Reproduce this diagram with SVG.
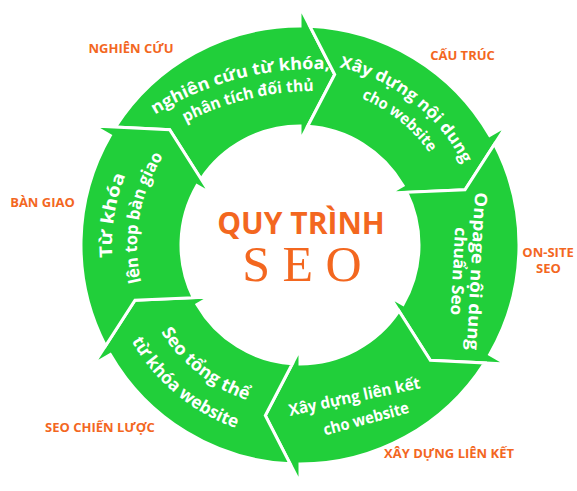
<svg xmlns="http://www.w3.org/2000/svg" width="577" height="491" viewBox="0 0 577 491">
<style>
.arrow{fill:#21cf3a;stroke:#ffffff;stroke-width:3;stroke-linejoin:miter}
.in{font-family:"Open Sans","DejaVu Sans",sans-serif;font-weight:700;fill:#ffffff;text-anchor:middle}
.lbl{font-family:"Open Sans","DejaVu Sans",sans-serif;font-weight:700;font-size:13px;fill:#f3671f;text-anchor:middle}
.title{font-family:"Open Sans","DejaVu Sans",sans-serif;font-weight:700;font-size:30px;fill:#f3671f;text-anchor:middle}
.seo{font-family:"Liberation Serif","Times New Roman",serif;font-size:50px;fill:#f3671f;text-anchor:middle}
</style>
<defs>
<path id="arr" d="M115.47,127.04 A219,219 0 0 1 300,26 L300,7 L334.69,74.49 L300,141 L300,126 A119,119 0 0 0 201.0,178.97 L169.68,129.70 Z"/>
<path id="p1a" d="M83.84,175.57 A304,304 0 0 1 421.46,88.25"/>
<path id="p1b" d="M102.83,187.23 A282,282 0 0 1 416.98,110.09"/>
<path id="p2a" d="M309.53,63.25 A182,182 0 0 1 474.05,191.79"/>
<path id="p2b" d="M309.98,86.31 A159,159 0 0 1 452.53,200.11"/>
<path id="p5a" d="M142.84,291.85 A164,164 0 0 0 290.27,408.71"/>
<path id="p5b" d="M112.79,295.86 A194,194 0 0 0 283.77,438.32"/>
<path id="p6a" d="M131.03,327.41 A188,188 0 0 1 164.76,114.40"/>
<path id="p6b" d="M152.27,313.89 A163,163 0 0 1 184.74,129.74"/>
</defs>
<rect width="577" height="491" fill="#ffffff"/>

<g id="step-research">
<use href="#arr" class="arrow"/>
<text class="in" font-size="17"><textPath href="#p1a" startOffset="50%" textLength="183" lengthAdjust="spacingAndGlyphs">nghiên cứu từ khóa,</textPath></text>
<text class="in" font-size="16"><textPath href="#p1b" startOffset="50%" textLength="133" lengthAdjust="spacingAndGlyphs">phân tích đối thủ</textPath></text>
</g>

<g id="step-content">
<use href="#arr" class="arrow" transform="rotate(60 300 245)"/>
<text class="in" font-size="16.5"><textPath href="#p2a" startOffset="50%" textLength="162" lengthAdjust="spacingAndGlyphs">Xây dựng nội dung</textPath></text>
<text class="in" font-size="15.5"><textPath href="#p2b" startOffset="50%" textLength="88" lengthAdjust="spacingAndGlyphs">cho website</textPath></text>
</g>

<g id="step-onpage">
<use href="#arr" class="arrow" transform="rotate(120 300 245)"/>
<text class="in" font-size="17" transform="translate(471,271) rotate(93)" textLength="158" lengthAdjust="spacingAndGlyphs">Onpage nội dung</text>
<text class="in" font-size="16.5" transform="translate(453,271) rotate(93)" textLength="88" lengthAdjust="spacingAndGlyphs">chuẩn Seo</text>
</g>

<g id="step-links">
<use href="#arr" class="arrow" transform="rotate(180 300 245)"/>
<text class="in" font-size="16" transform="translate(355.5,402) rotate(-12)" textLength="134" lengthAdjust="spacingAndGlyphs">Xây dựng liên kết</text>
<text class="in" font-size="16" transform="translate(367.5,424) rotate(-15)" textLength="88" lengthAdjust="spacingAndGlyphs">cho website</text>
</g>

<g id="step-strategy">
<use href="#arr" class="arrow" transform="rotate(240 300 245)"/>
<text class="in" font-size="17.5"><textPath href="#p5a" startOffset="50%" textLength="112" lengthAdjust="spacingAndGlyphs">Seo tổng thể</textPath></text>
<text class="in" font-size="17.5"><textPath href="#p5b" startOffset="50%" textLength="139" lengthAdjust="spacingAndGlyphs">từ khóa website</textPath></text>
</g>

<g id="step-handover">
<use href="#arr" class="arrow" transform="rotate(300 300 245)"/>
<text class="in" font-size="17.5"><textPath href="#p6a" startOffset="50%" textLength="84" lengthAdjust="spacingAndGlyphs">Từ khóa</textPath></text>
<text class="in" font-size="17"><textPath href="#p6b" startOffset="50%" textLength="131" lengthAdjust="spacingAndGlyphs">lên top bàn giao</textPath></text>
</g>

<g id="labels">
<text class="lbl" x="131" y="53">NGHIÊN CỨU</text>
<text class="lbl" x="462.5" y="60">CẤU TRÚC</text>
<text class="lbl" x="548" y="257">ON-SITE</text>
<text class="lbl" x="548.5" y="273">SEO</text>
<text class="lbl" x="449" y="458">XÂY DỰNG LIÊN KẾT</text>
<text class="lbl" x="100" y="432">SEO CHIẾN LƯỢC</text>
<text class="lbl" x="42.5" y="207">BÀN GIAO</text>
</g>

<g id="center">
<text class="title" x="301" y="234">QUY TRÌNH</text>
<text class="seo" x="302" y="281">S E O</text>
</g>
</svg>
